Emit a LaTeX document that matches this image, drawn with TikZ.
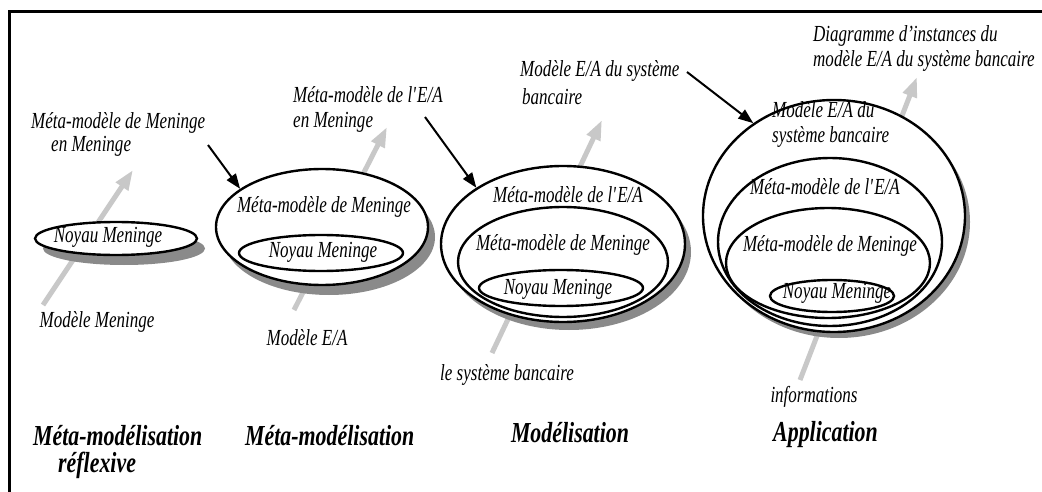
\documentclass[tikz,border=0pt]{standalone}
\usepackage{fontspec}
\usetikzlibrary{shapes.geometric,shadows,arrows.meta}
\newfontfamily\tnr[FakeStretch=0.74]{Liberation Serif}
\newfontfamily\tnrb[FakeStretch=0.755]{Liberation Serif}
\newcommand\lblfont{\tnr\itshape\fontsize{23}{27}\selectfont}
\newcommand\ttlfont{\tnrb\bfseries\itshape\fontsize{29}{33}\selectfont}
\definecolor{arrowgray}{RGB}{200,200,200}
\definecolor{shadowgray}{RGB}{138,138,138}
\begin{document}
\begin{tikzpicture}[x=1pt,y=-1pt,
  lbl/.style={font=\lblfont,inner sep=0pt,anchor=base west},
  lblc/.style={font=\lblfont,inner sep=0pt,anchor=base},
  ttl/.style={font=\ttlfont,inner sep=0pt,anchor=base west},
  ring/.style={ellipse,draw,fill=white,line width=2.4pt,inner sep=0pt},
  outer/.style 2 args={ring,drop shadow={shadow xshift=#1pt,shadow yshift=-#2pt,fill=shadowgray,opacity=1}},
  flow/.style={draw=arrowgray,line width=5pt,-{Triangle[width=14pt,length=20pt]}},
  link/.style={draw=black,line width=2pt,-{Triangle[width=11pt,length=15pt]}}]
\useasboundingbox (0,0) rectangle (1042,492);

% frame
\draw[line width=2.5pt] (9.5,492) -- (9.5,11.5) -- (1042,11.5);

% ends of the grey flow arrows
\coordinate (f1s) at (43,305);  \coordinate (f1e) at (133,170);
\coordinate (f2s) at (294,310); \coordinate (f2e) at (387,127);
\coordinate (f3s) at (492,353); \coordinate (f3e) at (602,120);
\coordinate (f4s) at (800,380); \coordinate (f4e) at (917,77);
\draw[flow] (f1s) -- (f1e);
\draw[flow] (f2s) -- (f2e);
\draw[flow] (f3s) -- (f3e);
\draw[flow] (f4s) -- (f4e);

% stage 1
\node[outer={8}{10},minimum width=162pt,minimum height=33pt] (e1) at (116,238.5) {};
\node[lblc] (n1) at (108,242) {Noyau Meninge};
\node[lbl] (m1a) at (31,129) {Méta-modèle de Meninge};
\node[lbl] (m1b) at (51,152) {en Meninge};
\node[lblc] (b1) at (97,327) {Modèle Meninge};

% stage 2
\node[outer={7}{10},minimum width=212pt,minimum height=116pt] (e2) at (322,227) {};
\node[ring,minimum width=164pt,minimum height=36pt] (e2i) at (321,253) {};
\node[lblc] (e2t) at (324,212) {Méta-modèle de Meninge};
\node[lblc] (n2) at (323,257) {Noyau Meninge};
\node[lbl] (m2a) at (293,103) {Méta-modèle de l\textquotesingle E/A};
\node[lbl] (m2b) at (293,128) {en Meninge};
\node[lblc] (b2) at (307,345) {Modèle E/A};

% stage 3
\node[outer={6}{8},minimum width=244pt,minimum height=156pt] (e3) at (563,244) {};
\node[ring,minimum width=210pt,minimum height=110pt] (e3m) at (563,262) {};
\node[ring,minimum width=164pt,minimum height=36pt] (e3i) at (561,288) {};
\node[lblc] (e3t) at (568,202) {Méta-modèle de l\textquotesingle E/A};
\node[lblc] (e3u) at (563,250) {Méta-modèle de Meninge};
\node[lblc] (n3) at (558,294) {Noyau Meninge};
\node[lbl] (m3a) at (520,77) {Modèle E/A du système};
\node[lbl] (m3b) at (522,105) {bancaire};
\node[lblc] (b3) at (507,380) {le système bancaire};

% stage 4
\node[outer={5}{6},minimum width=262pt,minimum height=232pt] (e4) at (834,216) {};
\node[ring,minimum width=224pt,minimum height=168pt] (e4a) at (830,242) {};
\node[ring,minimum width=204pt,minimum height=110pt] (e4b) at (828,263) {};
\node[ring,minimum width=124pt,minimum height=32pt] (e4i) at (832,296) {};
\node[lbl] (e4s) at (772,118) {Modèle E/A du};
\node[lbl] (e4r) at (772,143) {système bancaire};
\node[lblc] (e4t) at (825,195) {Méta-modèle de l\textquotesingle E/A};
\node[lblc] (e4u) at (830,251) {Méta-modèle de Meninge};
\node[lblc] (n4) at (837,298) {Noyau Meninge};
\node[lbl] (m4a) at (813,42) {Diagramme d’instances du};
\node[lbl] (m4b) at (813,67) {modèle E/A du système bancaire};
\node[lblc] (b4) at (814,402) {informations};

% black links from each model to the next stage
\coordinate (l1) at (208,145);
\coordinate (l2) at (425,117);
\coordinate (l3) at (687,72);
\draw[link] (l1) -- (e2.155);
\draw[link] (l2) -- (e3.147);
\draw[link] (l3) -- (e4.131);

% stage titles
\node[ttl] (s1a) at (33,445) {Méta-modélisation};
\node[ttl] (s1b) at (58,472) {réflexive};
\node[ttl] (s2) at (245,445) {Méta-modélisation};
\node[ttl,anchor=base] (s3) at (570,442) {Modélisation};
\node[ttl] (s4) at (773,441) {Application};
\end{tikzpicture}
\end{document}
